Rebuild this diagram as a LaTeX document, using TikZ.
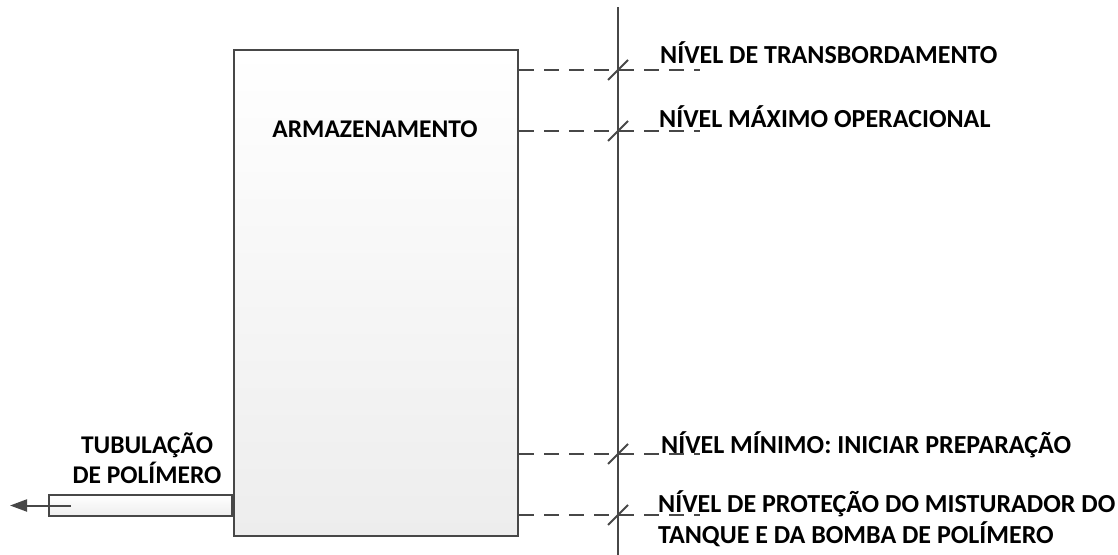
\documentclass[tikz,border=0pt]{standalone}
\usepackage{fontspec}
\setmainfont{Carlito}[BoldFont={Carlito Bold}]
\usetikzlibrary{arrows.meta}
\definecolor{ink}{HTML}{474747}
\definecolor{tankgrey}{HTML}{EDEDED}
\begin{document}
\begin{tikzpicture}[x=1pt,y=-1pt,
  edge/.style={draw=ink,line width=2pt},
  level/.style={draw=ink,line width=2pt,dash pattern=on 15pt off 10pt},
  body/.style={draw=ink,line width=2pt,top color=white,bottom color=tankgrey,inner sep=0pt},
  caption/.style={font=\bfseries\fontsize{26}{30}\selectfont,inner sep=0pt,anchor=base west},
  centred/.style={font=\bfseries\fontsize{25.5}{30}\selectfont,inner sep=0pt,anchor=base}]
\useasboundingbox (0,0) rectangle (1118,554);

% outlet pipe (drawn first so the tank wall covers its end)
\node[body,minimum width=183pt,minimum height=21pt,anchor=east] (pipe) at (233,505.5) {};
\coordinate (pipein) at (71,505.5);
\coordinate (outlet) at (10,505.5);
\draw[edge,-{Triangle[length=17pt,width=12pt]}] (pipein) -- (outlet);

% storage tank
\node[body,minimum width=284pt,minimum height=486pt,anchor=north west] (tank) at (233,49) {};
\node[centred] (tanklabel) at (375,137) {ARMAZENAMENTO};

% level gauge
\coordinate (axtop) at (618,7);
\coordinate (axbot) at (618,556);
\draw[edge] (axtop) -- (axbot);

\foreach \n/\y in {a/70,b/131,c/454,d/515}{
  \coordinate (end\n) at (700,\y);
  \coordinate (cross\n) at (618,\y);
  \draw[level] (tank.east |- end\n) -- (end\n);
  \draw[edge] ([shift={(-10,10)}]cross\n) -- ([shift={(10,-10)}]cross\n);
}

% level captions
\node[caption] (capa) at (660,63) {NÍVEL DE TRANSBORDAMENTO};
\node[caption] (capb) at (659,127) {NÍVEL MÁXIMO OPERACIONAL};
\node[caption] (capc) at (661,453) {NÍVEL MÍNIMO: INICIAR PREPARAÇÃO};
\node[caption] (capd) at (658,512) {NÍVEL DE PROTEÇÃO DO MISTURADOR DO};
\node[caption] (cape) at (658,543) {TANQUE E DA BOMBA DE POLÍMERO};

% pipe caption
\node[centred] (pipea) at (147,453) {TUBULAÇÃO};
\node[centred] (pipeb) at (147,483) {DE POLÍMERO};
\end{tikzpicture}
\end{document}
